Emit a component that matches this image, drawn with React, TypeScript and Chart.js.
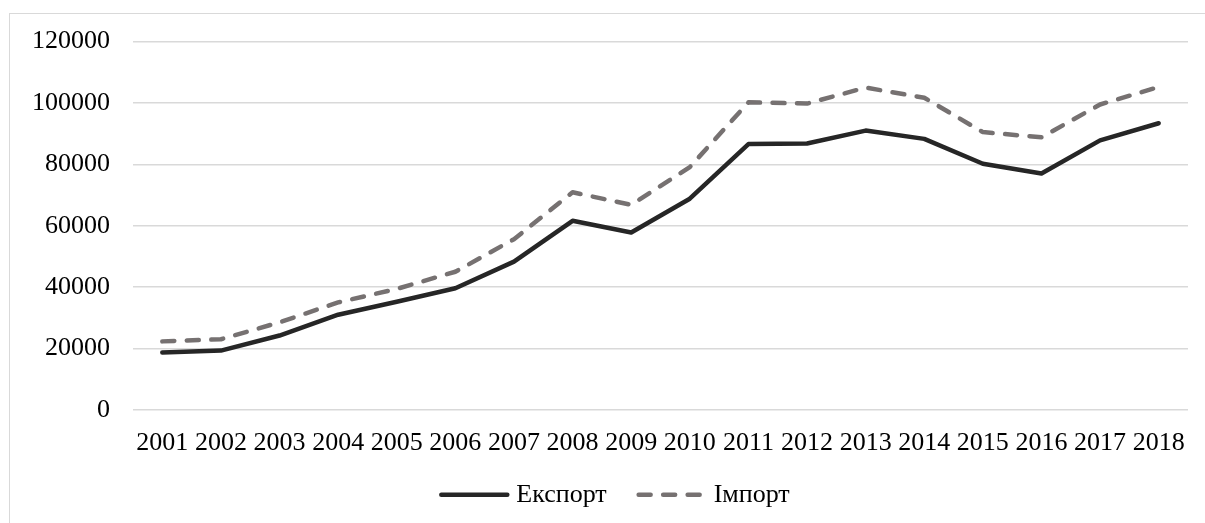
import React, { useEffect, useRef } from "react";
import { Chart, registerables } from "chart.js";

Chart.register(...registerables);

const years = ["2001","2002","2003","2004","2005","2006","2007","2008","2009","2010","2011","2012","2013","2014","2015","2016","2017","2018"];
const exportValues = [18700, 19300, 24200, 31000, 35200, 39600, 48300, 61600, 57800, 68800, 86600, 86800, 91000, 88300, 80200, 77000, 87800, 93400];
const importValues = [22300, 23000, 28500, 35000, 39400, 45000, 55600, 70900, 66800, 79100, 100200, 99800, 105000, 101700, 90500, 88800, 99500, 105200];
const seriesNames = ["Експорт", "Імпорт"];
const yTicks = { min: 0, max: 120000, step: 20000 };

const FONT = "'Liberation Serif', 'Times New Roman', serif";
const FONT_SIZE = 26;

const legendPlugin = {
  id: "customLegend",
  afterDraw(chart: any) {
    const ctx = chart.ctx as CanvasRenderingContext2D;
    const lineLen = 70;
    const textGap = 7;
    const itemGap = 30;
    ctx.save();
    ctx.font = `${FONT_SIZE}px ${FONT}`;
    const items = chart.data.datasets.map((ds: any) => ({
      label: ds.label as string,
      color: ds.borderColor as string,
      dash: (ds.borderDash || []) as number[],
      width: ds.borderWidth as number,
      textW: ctx.measureText(ds.label).width,
    }));
    const total = items.reduce((s: number, it: any, i: number) => s + lineLen + textGap + it.textW + (i > 0 ? itemGap : 0), 0);
    let x = (chart.chartArea.left + chart.chartArea.right) / 2 - total / 2 - 46;
    const y = chart.chartArea.bottom + 85;
    items.forEach((it: any, i: number) => {
      if (i > 0) x += itemGap;
      ctx.beginPath();
      ctx.strokeStyle = it.color;
      ctx.lineWidth = it.width;
      ctx.lineCap = "round";
      ctx.setLineDash(it.dash);
      ctx.moveTo(x + 2, y);
      ctx.lineTo(x + lineLen - 2, y);
      ctx.stroke();
      ctx.setLineDash([]);
      x += lineLen + textGap;
      ctx.fillStyle = "#000";
      ctx.textBaseline = "middle";
      ctx.textAlign = "left";
      ctx.fillText(it.label, x, y);
      x += it.textW;
    });
    ctx.restore();
  },
};

export default function App() {
  const ref = useRef<HTMLCanvasElement | null>(null);
  useEffect(() => {
    if (!ref.current) return;
    const chart = new Chart(ref.current, {
      type: "line",
      data: {
        labels: years,
        datasets: [
          {
            label: seriesNames[0],
            data: exportValues,
            borderColor: "#262626",
            backgroundColor: "#262626",
            borderWidth: 4.5,
            pointRadius: 0,
            tension: 0,
            borderCapStyle: "round",
            borderJoinStyle: "round",
          },
          {
            label: seriesNames[1],
            data: importValues,
            borderColor: "#767171",
            backgroundColor: "#767171",
            borderWidth: 4.5,
            pointRadius: 0,
            tension: 0,
            borderDash: [12, 12.5],
            borderCapStyle: "round",
            borderJoinStyle: "round",
          },
        ],
      },
      options: {
        animation: false,
        responsive: false,
        maintainAspectRatio: false,
        layout: { padding: { left: 0, right: 18, top: 0, bottom: 46 } },
        plugins: {
          tooltip: { enabled: false },
          legend: { display: false },
        },
        scales: {
          x: {
            offset: true,
            grid: { display: false, drawTicks: false },
            border: { display: false },
            ticks: { color: "#000", font: { family: FONT, size: FONT_SIZE }, padding: 18, maxRotation: 0, autoSkip: false },
          },
          y: {
            min: yTicks.min,
            max: yTicks.max,
            grid: { color: "#d9d9d9", lineWidth: 1.5, drawTicks: false },
            border: { display: false },
            ticks: {
              stepSize: yTicks.step,
              color: "#000",
              font: { family: FONT, size: FONT_SIZE },
              padding: 23,
              callback: (v: any) => String(v),
            },
          },
        },
      },
      plugins: [legendPlugin],
    });
    return () => chart.destroy();
  }, []);
  return (
    <>
      <div style={{ position: "fixed", top: 13, left: 9, width: 1200, height: 515, border: "1.5px solid #d9d9d9", boxSizing: "border-box", background: "#fff" }} />
      <canvas ref={ref} width={1197} height={520} style={{ display: "block", position: "fixed", top: 3, left: 9 }} />
    </>
  );
}
